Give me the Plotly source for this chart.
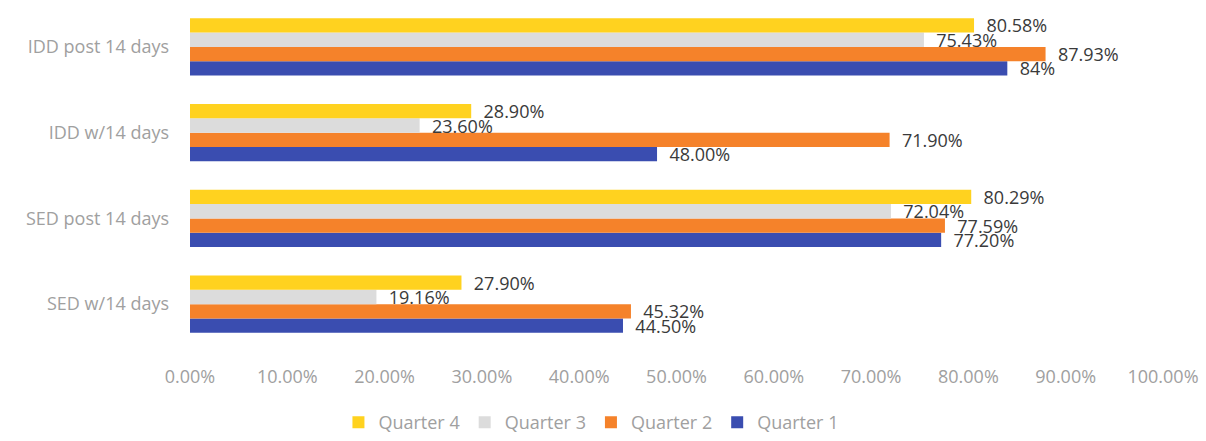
import plotly.graph_objects as go

categories = ["SED w/14 days", "SED post 14 days", "IDD w/14 days", "IDD post 14 days"]
series_names = ["Quarter 1", "Quarter 2", "Quarter 3", "Quarter 4"]
q1 = [44.50, 77.20, 48.00, 84.00]
q2 = [45.32, 77.59, 71.90, 87.93]
q3 = [19.16, 72.04, 23.60, 75.43]
q4 = [27.90, 80.29, 28.90, 80.58]
q1_labels = ["44.50%", "77.20%", "48.00%", "84%"]
q2_labels = ["45.32%", "77.59%", "71.90%", "87.93%"]
q3_labels = ["19.16%", "72.04%", "23.60%", "75.43%"]
q4_labels = ["27.90%", "80.29%", "28.90%", "80.58%"]
tick_vals = [0, 10, 20, 30, 40, 50, 60, 70, 80, 90, 100]
tick_text = [f"{v:.2f}%" for v in tick_vals]

colors = ["#3A4DB0", "#F5822A", "#DCDCDC", "#FFD21F"]
values = [q1, q2, q3, q4]
labels = [q1_labels, q2_labels, q3_labels, q4_labels]

pad = "\u00a0\u00a0"

fig = go.Figure()
for name, vals, lab, col in zip(series_names, values, labels, colors):
    fig.add_trace(go.Bar(
        y=categories, x=vals, name=name, orientation="h",
        marker=dict(color=col, line=dict(width=0)),
        text=[pad + t for t in lab], textposition="outside", cliponaxis=False,
        constraintext="none",
        textfont=dict(color="#3A3A3A", size=18, family="Open Sans"),
    ))

fig.update_layout(
    width=1206, height=441,
    barmode="group", bargap=0.335, bargroupgap=0,
    plot_bgcolor="white", paper_bgcolor="white",
    margin=dict(l=190, r=43, t=4, b=94),
    font=dict(family="Open Sans", color="#A0A0A0"),
    showlegend=True,
    legend=dict(orientation="h", traceorder="reversed",
                xref="container", x=0.49, xanchor="center",
                yref="container", y=-0.03, yanchor="bottom",
                font=dict(size=18, color="#A0A0A0"),
                itemwidth=30),
)
fig.update_xaxes(range=[0, 100], tickvals=tick_vals, ticktext=tick_text,
                 showgrid=False, zeroline=False, showline=False,
                 tickfont=dict(size=18, color="#A0A0A0"), ticklabelstandoff=17)
fig.update_yaxes(showgrid=False, showline=False, zeroline=False,
                 tickfont=dict(size=18, color="#A0A0A0"), ticklabelstandoff=20)

fig.write_html("out.html")
